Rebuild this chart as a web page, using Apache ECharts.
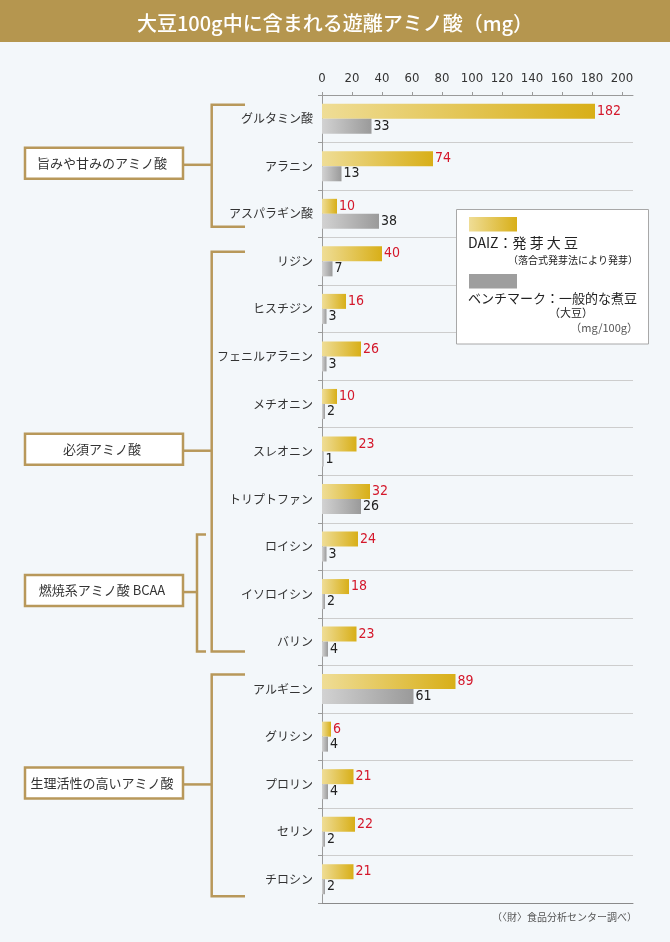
<!DOCTYPE html>
<html><head><meta charset="utf-8">
<script src="https://cdn.jsdelivr.net/npm/echarts@6/dist/echarts.min.js"></script>
<style>html,body{margin:0;padding:0;background:#f3f7fa}#c{width:670px;height:942px}</style>
</head><body><div id="c"></div>
<script>
// ---- data ----
const titleText = '大豆100g中に含まれる遊離アミノ酸（mg）';
const categories = ['グルタミン酸','アラニン','アスパラギン酸','リジン','ヒスチジン','フェニルアラニン','メチオニン','スレオニン','トリプトファン','ロイシン','イソロイシン','バリン','アルギニン','グリシン','プロリン','セリン','チロシン'];
const daizValues  = [182, 74, 10, 40, 16, 26, 10, 23, 32, 24, 18, 23, 89, 6, 21, 22, 21];
const benchValues = [ 33, 13, 38,  7,  3,  3,  2,  1, 26,  3,  2,  4, 61, 4,  4,  2,  2];
const tickValues = [0, 20, 40, 60, 80, 100, 120, 140, 160, 180, 200];
const groupNames = ['旨みや甘みのアミノ酸', '必須アミノ酸', '燃焼系アミノ酸 BCAA', '生理活性の高いアミノ酸'];
const groupFirst = ['グルタミン酸', 'リジン', 'ロイシン', 'アルギニン'];
const groupLast  = ['アスパラギン酸', 'バリン', 'バリン', 'チロシン'];
const legendLines = ['DAIZ：発 芽 大 豆', '（落合式発芽法により発芽）', 'ベンチマーク：一般的な煮豆', '（大豆）', '（mg/100g）'];
const sourceText = '（〈財〉食品分析センター調べ）';

// ---- style ----
const FONT = "'Noto Sans CJK JP','Noto Sans',sans-serif";
const NUM = "'Liberation Sans Narrow','DejaVu Sans Condensed',Roboto,sans-serif";
const GOLD = '#b8985a';
const goldGrad = {type:'linear', x:0, y:0, x2:1, y2:0, colorStops:[{offset:0, color:'#efdd96'},{offset:1, color:'#d8af18'}]};
const grayGrad = {type:'linear', x:0, y:0, x2:1, y2:0, colorStops:[{offset:0, color:'#d2d2d2'},{offset:1, color:'#9a9a9a'}]};
const bracketStyle = {
  x:      [211.7, 211.7, 197, 211.7],
  armEnd: [245, 245, 206, 245],
  topOff: [-14, -9.5, -12, -14.5],
  botOff: [13, 10, 10, 17]
};

const chart = echarts.init(document.getElementById('c'));
const AXMAX = 207.33;
chart.setOption({
  backgroundColor: '#f3f7fa',
  animation: false,
  title: {
    text: titleText, left: 'center', top: 8, z: 10,
    textStyle: {color: '#fff', fontSize: 20, fontWeight: 500, fontFamily: FONT}
  },
  grid: {left: 322, right: 37, top: 95, bottom: 39, containLabel: false},
  xAxis: [{
    type: 'value', position: 'top', min: 0, max: AXMAX, interval: 20,
    axisLine: {show: true, lineStyle: {color: '#9a9a9a'}},
    axisTick: {show: true, length: 3, customValues: tickValues, lineStyle: {color: '#9a9a9a'}},
    axisLabel: {customValues: tickValues, margin: 10, fontSize: 13, color: '#333', fontFamily: NUM},
    splitLine: {show: false}
  }, {
    type: 'value', position: 'bottom', min: 0, max: AXMAX,
    axisLine: {show: true, onZero: false, lineStyle: {color: '#8a8a8a'}},
    axisTick: {show: false}, axisLabel: {show: false}, splitLine: {show: false}
  }],
  yAxis: {
    type: 'category', data: categories, inverse: true,
    axisLine: {show: true, lineStyle: {color: '#9a9a9a'}},
    axisTick: {show: true, length: 4, lineStyle: {color: '#9a9a9a'}},
    axisLabel: {fontSize: 12, color: '#333', margin: 9, fontFamily: FONT},
    splitLine: {show: true, lineStyle: {color: '#cdcdcd'}}
  },
  series: [{
    type: 'bar', name: 'DAIZ', data: daizValues, barWidth: 15, barGap: '0%',
    itemStyle: {color: goldGrad},
    label: {show: true, position: 'right', distance: 2, color: '#d4182b', fontSize: 14, fontFamily: NUM}
  }, {
    type: 'bar', name: 'ベンチマーク', data: benchValues, barWidth: 15, barGap: '0%',
    itemStyle: {color: grayGrad},
    label: {show: true, position: 'right', distance: 2, color: '#222', fontSize: 14, fontFamily: NUM}
  }]
});

// ---- decorations built from the axis' own pixel positions ----
const cy = name => chart.convertToPixel({yAxisIndex: 0}, categories.indexOf(name));
const g = [];
g.push({type: 'rect', z: 0, shape: {x: 0, y: 0, width: 670, height: 42}, style: {fill: '#b5964f'}});
groupNames.forEach((name, i) => {
  const top = cy(groupFirst[i]) + bracketStyle.topOff[i];
  const bot = cy(groupLast[i]) + bracketStyle.botOff[i];
  const bx = bracketStyle.x[i], ax = bracketStyle.armEnd[i];
  const mid = (top + bot) / 2;
  const ls = {stroke: GOLD, lineWidth: 2.5, fill: null};
  g.push({type: 'polyline', shape: {points: [[ax, top], [bx, top], [bx, bot], [ax, bot]]}, style: ls});
  g.push({type: 'line', shape: {x1: 183, y1: mid - 1, x2: bx, y2: mid - 1}, style: ls});
  g.push({type: 'rect', shape: {x: 25, y: mid - 2.5 - 15.5, width: 158, height: 31}, style: {fill: '#fff', stroke: GOLD, lineWidth: 2.5}});
  g.push({type: 'text', x: 102, y: mid - 2.5, style: {text: name, fill: '#333', fontSize: 13, fontFamily: FONT, align: 'center', verticalAlign: 'middle'}});
});
// legend box
g.push({type: 'rect', shape: {x: 456.5, y: 209.5, width: 192, height: 134.5}, style: {fill: '#fff', stroke: '#a8a8a8', lineWidth: 1}});
g.push({type: 'rect', shape: {x: 469, y: 217, width: 48, height: 14.5}, style: {fill: goldGrad}});
g.push({type: 'text', x: 468, y: 243, style: {text: legendLines[0], fill: '#222', fontSize: 14, fontFamily: FONT, verticalAlign: 'middle'}});
g.push({type: 'text', x: 638, y: 260, style: {text: legendLines[1], fill: '#222', fontSize: 10, fontFamily: FONT, align: 'right', verticalAlign: 'middle'}});
g.push({type: 'rect', shape: {x: 469, y: 274, width: 48, height: 14.5}, style: {fill: '#9e9e9e'}});
g.push({type: 'text', x: 468, y: 298, style: {text: legendLines[2], fill: '#222', fontSize: 13, fontFamily: FONT, verticalAlign: 'middle'}});
g.push({type: 'text', x: 571, y: 313, style: {text: legendLines[3], fill: '#222', fontSize: 11, fontFamily: FONT, align: 'center', verticalAlign: 'middle'}});
g.push({type: 'text', x: 638, y: 328, style: {text: legendLines[4], fill: '#555', fontSize: 11, fontFamily: FONT, align: 'right', verticalAlign: 'middle'}});
// source
g.push({type: 'text', x: 637, y: 917, style: {text: sourceText, fill: '#555', fontSize: 10, fontFamily: FONT, align: 'right', verticalAlign: 'middle'}});
chart.setOption({graphic: g});
</script></body></html>
